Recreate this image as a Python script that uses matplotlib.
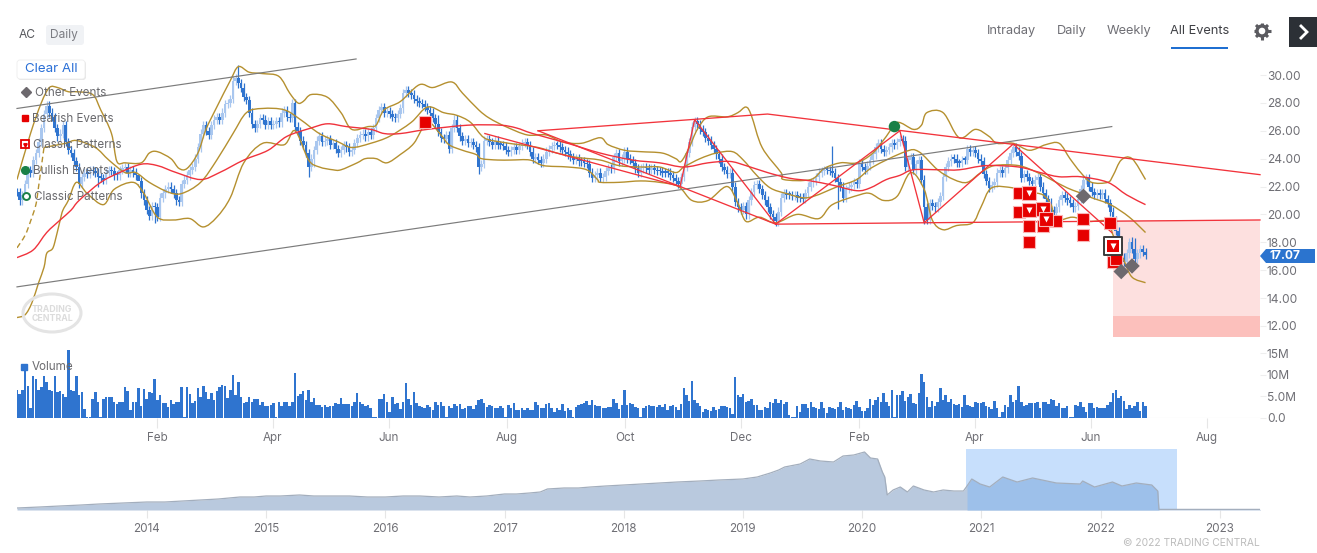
import matplotlib
matplotlib.use("Agg")
import matplotlib.pyplot as plt
import numpy as np
from matplotlib.patches import FancyBboxPatch, Polygon, Ellipse, Rectangle, PathPatch
from matplotlib.path import Path

plt.rcParams['font.family'] = ['Inter', 'DejaVu Sans']

# ---------- data (x = trading session number, y = price) ----------
close_prices = [
 21.6,21.0,21.4,22.2,23.2,23.0,23.9,24.4,25.2,26.2,27.2,27.8,27.3,27.0,26.2,25.6,25.8,26.4,25.2,24.6,
 24.4,23.8,23.4,22.2,22.7,23.0,22.9,23.2,23.1,23.0,22.7,22.6,22.5,23.0,23.2,23.1,22.8,22.8,23.2,23.3,
 23.4,23.0,23.2,23.0,22.8,22.4,21.5,21.0,20.3,19.9,20.6,20.5,19.8,21.2,21.5,21.8,22.0,21.8,21.5,21.0,
 20.9,22.2,22.5,22.8,23.2,23.4,24.0,24.8,25.8,26.4,26.0,25.7,26.4,26.8,27.0,26.8,27.3,27.9,28.0,28.3,
 29.6,29.8,29.4,29.1,28.4,28.2,27.3,26.5,26.2,26.5,26.9,26.8,26.4,26.7,26.4,26.5,26.7,26.6,27.3,27.5,
 27.0,26.9,28.0,26.3,26.0,25.3,25.0,24.4,23.4,24.0,24.6,25.3,25.6,25.2,25.3,25.4,25.0,25.1,24.7,24.4,
 24.6,25.0,24.8,24.5,24.6,25.1,25.5,25.7,25.8,25.6,25.9,25.7,26.2,26.9,27.5,27.7,27.3,27.4,27.2,27.0,
 26.9,27.2,27.6,28.7,28.9,28.7,28.6,28.3,28.1,28.0,27.9,27.7,27.5,27.3,26.9,26.5,25.9,25.5,25.4,25.7,
 24.7,26.2,26.8,26.2,25.6,25.3,25.4,25.1,25.2,25.0,24.8,23.4,23.6,25.3,25.4,25.2,25.0,25.3,25.0,25.0,
 24.9,24.6,24.5,24.6,24.8,24.6,24.9,25.1,25.2,25.0,24.5,24.0,24.1,23.9,23.7,24.0,24.5,24.7,24.9,25.0,
 25.0,24.8,24.6,24.5,24.3,24.1,23.9,24.0,23.8,23.8,23.7,23.6,23.0,22.6,22.8,23.0,22.6,22.7,23.1,23.3,
 23.3,24.1,24.4,23.8,24.0,24.5,24.0,23.9,23.7,23.3,23.0,23.3,23.4,23.3,23.2,23.3,23.2,23.1,23.1,23.0,
 23.0,23.0,22.8,22.6,22.4,22.2,22.7,23.4,24.4,25.2,26.3,26.7,26.5,26.1,25.9,25.5,25.3,25.0,24.7,24.3,
 24.0,23.4,23.2,22.9,23.0,22.0,20.9,20.5,20.3,20.6,20.0,21.0,21.6,22.1,22.2,21.8,21.4,21.0,20.5,20.0,
 19.8,19.5,20.2,21.2,21.5,21.4,21.4,21.3,21.4,21.2,21.2,21.1,21.5,22.0,22.3,22.4,22.7,23.0,23.1,23.2,
 23.2,23.1,23.0,22.6,22.3,22.0,21.2,21.8,22.0,22.1,22.3,22.2,23.7,23.4,23.2,23.5,23.9,24.3,24.8,25.1,
 24.7,24.5,24.6,24.8,25.1,25.0,25.2,25.4,25.3,23.4,23.9,24.1,23.2,23.6,23.9,22.5,20.5,19.6,20.8,20.6,
 20.5,20.9,21.3,22.7,23.4,23.8,24.0,24.0,23.7,23.7,23.9,23.9,24.7,24.5,24.6,24.4,24.0,23.8,22.9,22.4,
 21.9,22.1,22.3,23.0,23.2,23.0,23.3,23.9,24.4,24.8,24.5,24.2,22.6,22.9,22.7,22.4,22.2,22.5,22.7,22.0,
 21.5,21.1,20.9,20.3,20.1,20.5,21.0,21.4,21.2,21.0,20.8,20.5,20.6,21.1,21.8,22.5,22.6,22.0,21.6,21.4,
 21.5,21.4,21.5,21.1,20.8,20.2,19.6,18.8,18.0,16.9,16.6,17.2,18.0,17.5,16.8,17.2,17.5,17.3,17.07]
high_spike_sessions = [82, 156, 302, 413, 414, 45]
high_spike_prices = [30.7, 27.1, 24.9, 18.4, 18.3, 22.2]
low_spike_sessions = [51, 108, 171, 110, 304, 246, 336, 409, 30]
low_spike_prices = [19.4, 22.7, 22.9, 23.4, 20.4, 21.8, 19.3, 16.2, 22.0]
typical_wick = 0.3

volume_a = [6.5,5.5,6.4,11.5,7.3,2.3,9.6,9.0,6.4,7.2,9.8,8.2,6.5,6.2,9.8,5.9,6.2,5.5,4.8,15.6,6.4,6.3,9.8,5.4,5.9,2.1,0.2,0.2,
 4.5,5.9,3.6,0.2,4.5,4.8,4.8,4.8,3.6,3.3,3.8,3.6,7.1,6.2,1.9,3.8,3.7,6.9,2.7,6.7,4.5,5.9,5.8,9.0,4.2,5.2,3.5,3.5,2.5,4.1,3.3,3.6,3.6,7.1,0.2,
 7.2,5.5,3.5,4.0,6.9,4.8,7.5,5.9,4.5,5.8,4.2,6.3,7.1,7.7,7.5,4.6,6.5,10.0,5.4,8.2,4.8,3.5,3.6,4.8,3.6,4.4,4.5,3.1,3.6,2.8,2.8,3.1,3.5,0.2,
 3.6,2.8,3.8,3.8,2.7,3.8,10.4,5.0,5.5,6.2,4.2,6.5,3.8,4.6,3.1,3.1,2.5,3.1,2.5,2.7,2.8,3.5,3.3,4.6,3.3,3.3,3.3,2.7,3.6,5.8,3.6,3.3,2.7,3.1,2.3,0.2,0.2,
 4.5,4.5,5.5,3.6,1.5,4.8,3.2,3.5,2.1,3.6,8.1,4.4,3.1,6.0,3.5,2.8,2.5,2.3,2.9,2.5,1.9,3.3,2.7,3.7]
volume_b = [3.6,3.1,2.8,2.7,0.2,2.7,2.3,3.3,2.8,3.2,2.1,2.2,2.7,2.7,2.1,3.1,4.2,4.5,3.5,2.5,3.1,2.7,2.2,2.2,2.8,2.2,0.2,
 3.1,2.3,3.5,1.9,1.9,2.2,1.9,2.3,1.9,1.9,3.6,2.9,2.2,2.2,3.2,3.5,2.2,1.3,2.2,1.9,3.2,1.7,2.3,1.9,0.2,
 2.5,3.1,3.3,3.5,4.0,3.1,4.2,2.9,2.8,2.8,2.2,2.4,2.5,2.6,4.4,3.5,2.0,3.1,6.4,2.9,3.5,3.2,2.6,2.3,0.2,
 2.3,2.8,3.1,2.8,2.7,2.5,2.9,2.5,3.3,1.9,2.7,3.1,2.5,1.9,3.3,6.9,5.4,4.0,8.5,4.2,3.5,2.7,1.5,2.0,1.8,1.7,2.5,1.8,2.1,2.7,2.8,2.6,2.2,0.9,
 9.4,5.4,4.8,5.5,3.8,4.0,4.5,2.9,3.1,1.9,1.9,2.5,2.3,3.8,3.5,4.4,3.5,4.1,3.2,3.8,0.8,0.2,0.2,2.8,1.4]
volume_c = [3.3,3.2,2.2,3.6,2.5,2.2,2.0,3.7,2.3,1.2,2.5,2.2,2.1,2.5,3.8,1.9,2.5,2.2,2.0,3.1,4.0,2.5,1.7,1.7,2.2,4.5,3.1,4.2,4.8,3.8,5.8,3.8,2.8,6.5,0.2,
 5.2,5.4,6.3,4.0,4.9,5.5,3.5,3.3,5.8,10.2,8.2,4.8,2.5,4.0,2.7,3.8,6.9,4.2,5.3,3.6,4.5,3.3,2.9,3.3,2.5,5.2,3.1,2.7,2.5,3.6,3.4,3.5,3.8,2.8,2.5,2.0,4.0,2.4,0.2,
 1.5,3.1,2.6,5.3,3.8,4.2,7.3,3.8,2.7,2.9,3.4,3.5,3.5,3.8,2.4,3.8,3.7,3.2,4.5,4.2,2.7,3.5,2.2,2.2,2.8,0.2,0.2,3.1,2.7,3.7,2.5,1.5,3.5,3.5,2.2,2.5,2.3,2.4,2.2,2.9,3.7,
 5.8,6.5,4.6,5.0,4.0,2.1,3.1,2.3,2.8,3.7,1.7,3.7,2.8]
volume_b_start = 155
volume_c_start = 291

upper_s = [0,5,9,12,15,19,22,28,31,35,37,40,46,49,52,57,60,63,67,70,74,79,82,86,91,97,101,104,106,109,115,120,124,130,133,136,142,149,154,161,165,171,175,181,189,196,202,209,216,219,225,231,239,244,246,249,252,256,263,267,270,272,276,283,284,294,299,305,311,317,322,326,332,335,337,343,349,355,360,363,369,375,381,386,390,394,398,404,406,409,413,418]
upper_p = [22.5,25.8,28.0,29.1,29.1,28.8,28.8,28.6,27.5,25.8,23.8,23.7,23.7,24.4,24.5,24.0,23.3,23.3,24.4,26.1,27.7,29.6,30.6,30.2,30.1,29.9,28.7,28.0,28.1,28.6,28.4,27.3,26.1,26.3,26.4,27.5,28.1,29.3,29.1,29.5,28.7,27.5,26.9,26.3,25.7,25.7,25.2,25.1,25.5,25.0,24.6,24.5,24.4,24.0,23.8,24.8,26.1,27.0,27.0,27.3,27.7,27.1,24.8,23.0,22.5,22.5,23.3,23.7,23.7,24.4,25.6,26.6,26.1,26.4,27.3,27.3,25.5,26.1,25.6,25.1,25.1,24.6,25.0,25.1,24.0,23.0,22.3,22.3,22.8,23.9,24.0,22.5]
middle_s = [10,18,22,29,34,40,44,49,56,61,68,74,80,85,91,99,105,112,119,124,131,138,146,152,158,163,168,173,179,186,193,200,207,216,223,231,238,244,247,253,259,265,269,274,279,285,293,304,311,317,329,334,341,347,352,357,362,371,378,383,389,393,398,405,412,418]
middle_p = [24.8,25.1,25.3,24.8,23.9,23.0,23.0,22.3,21.6,21.5,22.3,23.9,25.8,27.3,27.6,27.5,26.8,25.8,25.2,24.8,25.1,25.6,26.6,27.7,27.3,27.1,26.6,25.5,25.2,25.0,24.8,24.4,24.1,23.9,23.5,23.4,23.4,23.0,23.4,24.0,24.4,24.5,23.9,22.8,21.9,21.5,21.2,22.0,22.5,23.4,24.5,24.5,23.2,22.5,22.3,23.0,23.5,23.5,23.0,22.5,21.9,21.6,21.2,20.7,19.8,18.7]
middle_dash_s = [0,3,5,7,8,10]
middle_dash_p = [17.6,18.5,19.5,20.7,22.0,24.8]
lower_s = [0,3,5.5,8,10,11,13,14,16,17,19,22,26,32,36,43,47,52,58,64,69,74,79,84,91,99,103,108,112,117,120,126,129,133,137,142,147,152,157,160,165,170,172,178,183,190,195,204,211,215,216,223,231,238,245,250,256,263,267,270,275,281,289,297,302,312,316,321,326,331,336,339,343,348,354,357,361,369,375,380,383,385,391,397,404,406,410,413,418]
lower_p = [12.6,12.8,13.65,15.1,16.2,17.2,17.5,18.0,19.6,20.3,21.0,22.3,21.5,20.7,21.8,22.3,21.5,19.8,19.6,19.7,19.1,19.8,21.2,23.7,25.1,25.0,26.0,23.9,23.4,23.2,23.2,23.7,24.0,24.0,23.7,24.3,25.1,26.6,25.7,25.0,24.6,24.3,24.0,23.9,23.9,23.9,23.5,23.4,23.2,22.5,22.3,22.3,22.4,22.3,22.0,21.0,21.0,22.0,20.8,19.5,19.8,19.4,20.0,19.7,20.7,21.4,21.5,21.0,21.3,23.0,21.8,19.6,18.9,19.2,19.4,20.5,21.9,21.9,21.6,21.4,20.7,19.6,19.8,19.5,19.5,18.5,16.7,15.5,15.1]
avg_s = [0,6,11,16,20,23,31,38,46,52,59,68,75,84,93,100,109,115,122,131,136,142,152,167,179,185,191,204,216,228,238,247,256,264,270,278,286,294,302,311,316,322,327,332,342,349,359,371,379,386,394,404,411,418]
avg_p = [16.9,17.45,18.7,19.6,20.3,21.0,22.3,23.0,23.6,23.5,23.0,22.5,23.0,23.9,24.6,25.6,26.2,26.5,26.3,26.1,25.8,25.8,26.1,26.4,26.4,26.2,25.8,25.1,24.4,23.9,23.7,23.4,23.7,23.8,23.5,23.0,22.6,22.4,22.1,21.7,21.9,22.5,22.8,23.2,23.2,23.2,23.5,23.4,23.0,22.7,22.7,22.3,21.4,20.7]

channel_lines = [([0,125.6],[27.6,31.15]), ([0,405.5],[14.8,26.3])]
pattern_lines = [
 ([193,278,328,460.4],[26.0,27.2,26.0,22.85]),
 ([173.3,245.6],[25.8,22.0]),
 ([193,245.6],[26.0,22.0]),
 ([245.6,251,281],[22.0,26.8,19.3]),
 ([245.6,281],[22.0,19.3]),
 ([281,327,336,369,405.5],[19.3,26.0,19.4,25.05,18.7]),
 ([281,336,460.4],[19.3,19.4,19.6]),
]
target_s = [405.8,460.4]
target_hi, target_lo, target_inner = 19.6, 11.2, 12.7

bearish_s = [151,371,371,385,375,380,375,395,395,405,406,407]
bearish_p = [26.6,21.5,20.2,19.5,19.2,19.2,18.0,19.7,18.5,19.4,16.6,16.8]
classic_s = [375,375,380,381]
classic_p = [21.5,20.3,20.4,19.7]
selected_s, selected_p = 406, 17.7
other_s = [395,409,413]
other_p = [21.3,15.9,16.3]
bullish_s, bullish_p = [325],[26.3]
last_price = 17.07

month_ticks = [51.9,94.8,137.8,181.5,225.2,268.1,311.9,354.8,397.8,440.7]
month_labels = ['Feb','Apr','Jun','Aug','Oct','Dec','Feb','Apr','Jun','Aug']
price_ticks = [12,14,16,18,20,22,24,26,28,30]
vol_ticks = [0,5,10,15]
vol_labels = ['0.0','5.0M','10M','15M']

nav_years = [2012.91,2013.1,2013.27,2013.45,2013.6,2013.8,2014.0,2014.15,2014.3,2014.45,2014.6,2014.78,2014.9,2015.0,2015.12,2015.28,2015.4,2015.54,2015.7,2015.85,2016.0,2016.15,2016.29,2016.45,2016.6,2016.71,2016.85,2017.0,2017.1,2017.21,2017.3,2017.36,2017.5,2017.62,2017.72,2017.85,2018.0,2018.15,2018.3,2018.45,2018.64,2018.8,2019.0,2019.12,2019.23,2019.3,2019.35,2019.48,2019.56,2019.65,2019.76,2019.84,2019.93,2020.02,2020.07,2020.13,2020.17,2020.19,2020.21,2020.26,2020.32,2020.38,2020.43,2020.52,2020.6,2020.68,2020.77,2020.85,2020.88,2020.92,2020.99,2021.07,2021.18,2021.3,2021.43,2021.63,2021.83,2021.85,2021.95,2022.1,2022.18,2022.3,2022.43,2022.48,2022.49,2023.35]
nav_price = [2,3,4,5,6,7,8,8,9,10,11,13,13,14,14,15,14,14,14,13,13,14,14,13,14,13,14,16,16,17,18,21,22,22,23,24,25,26,27,28,29,30,31,33,37,40,43,46,51,49,48,54,55,58,52,51,38,33,15,20,23,18,24,20,18,20,19,19,24,31,26,23,33,28,32,27,26,29,23,28,24,27,25,19,0.6,0.6]
nav_ticks = [2014,2015,2016,2017,2018,2019,2020,2021,2022,2023]
selection = (2020.87,2022.64)

# ---------- layout ----------
W, H = 1317, 553
fig = plt.figure(figsize=(W/100, H/100), dpi=100, facecolor='white')
def box(x0, y0, x1, y1):
    return [x0/W, 1-y1/H, (x1-x0)/W, (y1-y0)/H]
ax = fig.add_axes(box(17, 58, 1260, 345))
axv = fig.add_axes(box(17, 345, 1260, 418))
axn = fig.add_axes(box(17, 449, 1260, 510))
grey = '#6f6f75'
for a in (ax, axv, axn):
    for s in a.spines.values():
        s.set_visible(False)
    a.set_xlim(0, 460.4)
    a.patch.set_alpha(0)

def curve(a, xs, ys, **kw):
    """Draw a smooth curve through the read points as Bezier segments."""
    p = np.column_stack([xs, ys]).astype(float)
    q = np.vstack([p[0], p, p[-1]])
    verts = [p[0]]; codes = [Path.MOVETO]
    for i in range(1, len(q)-2):
        verts += [q[i]+(q[i+1]-q[i-1])/6, q[i+1]-(q[i+2]-q[i])/6, q[i+1]]
        codes += [Path.CURVE4]*3
    a.add_patch(PathPatch(Path(verts, codes), fc='none', **kw))

# ---------- main pane ----------
ax.set_ylim(10.63, 31.22)
blue, light = '#2f74cf', '#a9c7ef'
c = np.array(close_prices)
o = np.r_[c[0], c[:-1]]
x = np.arange(len(c))
hi = np.maximum(o, c) + typical_wick
lo = np.minimum(o, c) - typical_wick
hi[high_spike_sessions] = high_spike_prices
lo[low_spike_sessions] = low_spike_prices
up = c > o
ax.add_patch(Rectangle((target_s[0], target_lo), target_s[1]-target_s[0], target_hi-target_lo, fc='#fde0df', ec='none', zorder=1))
ax.add_patch(Rectangle((target_s[0], target_lo), target_s[1]-target_s[0], target_inner-target_lo, fc='#fcc0bc', ec='none', zorder=1.1))
ax.vlines(x[up], lo[up], hi[up], color=light, lw=0.9, zorder=2)
ax.vlines(x[~up], lo[~up], hi[~up], color=blue, lw=0.9, zorder=2.1)
ax.bar(x[up], (c-o)[up], bottom=o[up], width=1.0, color=light, zorder=2)
ax.bar(x[~up], np.maximum((o-c)[~up], 0.12), bottom=c[~up], width=1.0, color=blue, zorder=2.1)

gold = '#b5902f'
for sx, sy in ((upper_s, upper_p), (middle_s, middle_p), (lower_s, lower_p)):
    curve(ax, sx, sy, ec=gold, lw=1.0, zorder=3)
curve(ax, middle_dash_s, middle_dash_p, ec=gold, lw=1.0, ls=(0, (4, 2.5)), zorder=3)
curve(ax, avg_s, avg_p, ec='#f0323c', lw=1.0, zorder=3.1)
for sx, sy in channel_lines:
    ax.plot(sx, sy, color='#7b7b7b', lw=0.85, zorder=3, clip_on=False)
for sx, sy in pattern_lines:
    ax.plot(sx, sy, color='#f2333b', lw=0.95, zorder=3.2, clip_on=False)

ax.scatter(bearish_s, bearish_p, marker='s', s=70, c='#e60000', edgecolors='#f9b4b4', linewidths=0.8, zorder=5)
ax.scatter(classic_s, classic_p, marker='s', s=92, c='#e60000', edgecolors='#f9b4b4', linewidths=0.8, zorder=5.1)
ax.scatter(classic_s, classic_p, marker='v', s=19, c='white', linewidths=0, zorder=5.2)
ax.scatter([selected_s], [selected_p], marker='s', s=150, c='white', edgecolors='#3b3b3b', linewidths=1.4, zorder=5.3)
ax.scatter([selected_s], [selected_p], marker='s', s=86, c='#e60000', linewidths=0, zorder=5.35)
ax.scatter([selected_s], [selected_p], marker='v', s=19, c='white', linewidths=0, zorder=5.4)
ax.scatter(other_s, other_p, marker='D', s=62, c='#6d696e', edgecolors='none', zorder=5.5)
ax.scatter(bullish_s, bullish_p, marker='o', s=68, c='#1a8046', edgecolors='none', zorder=5.5)

ax.yaxis.tick_right()
ax.set_yticks(price_ticks)
ax.set_yticklabels([f'{v:.2f}' for v in price_ticks])
ax.tick_params(axis='y', length=4, color='#eeeeee', labelsize=8.6, labelcolor=grey, pad=1)
ax.set_xticks([])

# ---------- volume pane ----------
axv.set_ylim(0, 16.86)
axv.bar(np.arange(len(volume_a)), volume_a, width=0.92, color=blue)
axv.bar(volume_b_start+np.arange(len(volume_b)), volume_b, width=0.92, color=blue)
axv.bar(volume_c_start+np.arange(len(volume_c)), volume_c, width=0.92, color=blue)
axv.yaxis.tick_right()
axv.set_yticks(vol_ticks)
axv.set_yticklabels(vol_labels)
axv.tick_params(axis='y', length=4, color='#eeeeee', labelsize=8.6, labelcolor=grey, pad=1)
axv.set_xticks(month_ticks)
axv.set_xticklabels(month_labels)
axv.tick_params(axis='x', length=7, color='#e6e6e6', labelsize=8.4, labelcolor=grey, pad=3)
axv.axhline(0, color='#e6e6e6', lw=0.8, zorder=0)

# ---------- navigator ----------
axn.set_xlim(2012.91, 2012.91+1243/119.2)
axn.set_ylim(0, 61)
ny = np.array(nav_years); np_ = np.array(nav_price)
axn.axvspan(*selection, color='#c7dffc', lw=0, zorder=1)
axn.fill_between(ny, 0, np_, color='#b9c9de', lw=0, zorder=2)
sel = (ny >= selection[0]) & (ny <= selection[1])
axn.fill_between(ny, 0, np_, where=sel, color='#9dc0ea', lw=0, zorder=2.1)
axn.plot(ny, np_, color='#a3aebd', lw=0.9, zorder=3)
axn.set_xticks(nav_ticks)
axn.set_xticklabels([str(v) for v in nav_ticks])
axn.tick_params(axis='x', length=6, color='#e6e6e6', labelsize=8.4, labelcolor=grey, pad=3)
axn.set_yticks([])

# ---------- page furniture, in pixel coordinates ----------
ui = fig.add_axes([0, 0, 1, 1], zorder=20)
ui.set_xlim(0, W); ui.set_ylim(H, 0); ui.axis('off'); ui.patch.set_alpha(0)
ui.add_patch(FancyBboxPatch((47, 26), 36, 18, boxstyle='round,pad=1,rounding_size=3', fc='#f0f2f5', ec='none'))
ui.text(19, 35, 'AC', fontsize=8.6, color='#55565b', va='center')
ui.text(50, 35, 'Daily', fontsize=8.6, color='#7b7c82', va='center')
ui.add_patch(FancyBboxPatch((19, 62), 66, 17, boxstyle='round,pad=1,rounding_size=3', fc='#dddddd', ec='none', alpha=0.7))
ui.add_patch(FancyBboxPatch((18, 61), 66, 17, boxstyle='round,pad=1,rounding_size=3', fc='white', ec='#eeeeee', lw=0.6))
ui.text(51, 69.5, 'Clear All', fontsize=9.6, color='#2a6fd6', va='center', ha='center')
legend_rows = [(35, 93, 'Other Events'), (32, 119, 'Bearish Events'), (33, 145, 'Classic Patterns'), (33, 171, 'Bullish Events'), (34, 197, 'Classic Patterns')]
for lx, ly, t in legend_rows:
    ui.text(lx, ly, t, fontsize=8.4, color='#6a6a6e', va='center')
ui.plot([25.5], [92], marker='D', ms=5.2, color='#6d696e', ls='none')
ui.plot([24.5], [118], marker='s', ms=4.2, color='#e60000', ls='none')
ui.plot([25], [144], marker='s', ms=5.2, mfc='white', mec='#e60000', mew=1.3, ls='none')
ui.plot([25], [144.5], marker='v', ms=2.5, color='#e60000', ls='none')
ui.plot([25], [170], marker='o', ms=5.5, color='#1a8046', ls='none')
ui.plot([25.5], [196], marker='o', ms=5, mfc='white', mec='#1a8046', mew=1.4, ls='none')
ui.plot([24], [366.5], marker='s', ms=4.4, color=blue, ls='none')
ui.text(32, 367, 'Volume', fontsize=8.4, color='#6a6a6e', va='center')

ui.add_patch(Polygon([(1260, 256), (1266, 249), (1315, 249), (1315, 263), (1266, 263)], closed=True, fc='#2b74cf', ec='none'))
ui.text(1269, 256, f'{last_price:.2f}', fontsize=8.6, color='white', va='center', fontweight='bold')

ui.add_patch(Ellipse((52, 313), 58, 38, fc='none', ec='#e4e4e4', lw=2.2))
ui.text(52, 314, 'TRADING\nCENTRAL', fontsize=6.3, color='#dcdcdc', ha='center', va='center', fontweight='bold', linespacing=1.0)

for cx, t, col in ((1011.5, 'Intraday', '#6f6f75'), (1072, 'Daily', '#6f6f75'), (1129, 'Weekly', '#6f6f75'), (1199.5, 'All Events', '#3f4045')):
    ui.text(cx, 31, t, fontsize=9.2, color=col, ha='center', va='center')
ui.add_patch(Rectangle((1171, 47), 57, 2, fc='#1f6fd1', ec='none'))
# gear icon
gear_col = '#5b5b60'
ui.add_patch(Ellipse((1262, 31), 10, 10, fc='none', ec=gear_col, lw=2.4))
for ang in np.deg2rad(np.arange(0, 360, 45)):
    ui.plot([1262+5*np.cos(ang), 1262+8.5*np.cos(ang)], [31+5*np.sin(ang), 31+8.5*np.sin(ang)], color=gear_col, lw=2.2, solid_capstyle='butt')
ui.add_patch(Rectangle((1289, 17), 28, 30, fc='#2c3036', ec='none'))
ui.plot([1301, 1307, 1301], [26, 32, 38], color='white', lw=2.0, solid_joinstyle='miter')
ui.text(1260, 543, '\u00a9 2022 TRADING CENTRAL', fontsize=7.4, color='#bcbcbc', ha='right', va='center')

fig.savefig('out.png', dpi=100)
